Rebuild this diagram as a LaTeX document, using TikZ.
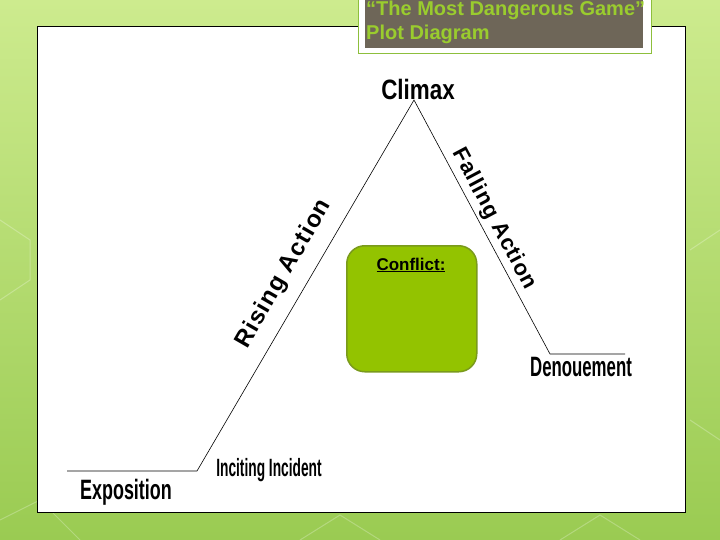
\documentclass[tikz,border=0pt]{standalone}
\usepackage{fontspec}
\setmainfont{Liberation Sans}
\usetikzlibrary{positioning}
\definecolor{bgtop}{HTML}{CDEB8E}
\definecolor{bgbot}{HTML}{9ACB52}
\definecolor{titlegray}{HTML}{6E6658}
\definecolor{titlegreen}{HTML}{9ACC2E}
\definecolor{framegreen}{HTML}{8DBF3C}
\definecolor{conflictfill}{HTML}{93C300}
\definecolor{conflictedge}{HTML}{7A9A1C}
\tikzset{
  plotline/.style={draw=black, line width=0.6pt},
  label/.style={font=\bfseries\fontsize{28}{30}\selectfont, inner sep=0pt, anchor=center},
  slanted/.style={font=\bfseries\fontsize{23}{25}\selectfont\addfontfeature{LetterSpace=4}, inner sep=0pt, anchor=center},
  conflictbox/.style={draw=conflictedge, line width=1.5pt, fill=conflictfill, rounded corners=18pt}
}
\begin{document}
\begin{tikzpicture}[x=1pt,y=-1pt]
\useasboundingbox (0,0) rectangle (720,540);
% background
\shade[top color=bgtop, bottom color=bgbot] (0,0) rectangle (720,540);
\begin{scope}[draw=white, opacity=0.25, line width=1pt]
  \draw (0,300) -- (30,280) -- (30,240) -- (0,220);
  \draw (0,520) -- (40,500) -- (80,540);
  \draw (690,250) -- (720,230);
  \draw (690,420) -- (720,440);
  \draw (300,540) -- (340,515) -- (380,540);
  \draw (560,540) -- (600,515) -- (640,540);
\end{scope}
% white panel
\node[draw=black, line width=0.8pt, fill=white, minimum width=648pt, minimum height=486pt, inner sep=0pt, anchor=north west] (panel) at (37,26) {};
% title box
\node[draw=framegreen, line width=1.5pt, fill=white, minimum width=293pt, minimum height=60pt, inner sep=0pt, anchor=north west] (titleframe) at (357.5,-7) {};
\node[fill=titlegray, minimum width=278pt, minimum height=55pt, inner sep=0pt, anchor=north west] (titlebg) at (365,-7) {};
\node[anchor=north west, inner sep=0pt, align=left, text=titlegreen, font=\bfseries\fontsize{20}{23.5}\selectfont] (title) at (366,1) {“The Most Dangerous Game”\\Plot Diagram};
% plot line
\coordinate (expstart) at (67,471);
\coordinate (incite) at (197,471);
\coordinate (peak) at (414,100);
\coordinate (fallend) at (550,354);
\coordinate (denend) at (625,354);
\draw[plotline] (expstart) -- (incite) -- (peak) -- (fallend) -- (denend);
% labels
\node[label, xscale=0.8] (climax) at (418,89) {Climax};
\node[label, xscale=0.6] (denouement) at (581,367) {Denouement};
\node[label, font=\bfseries\fontsize{25}{27}\selectfont, xscale=0.55] (inciting) at (269,470) {Inciting Incident};
\node[label, xscale=0.64] (exposition) at (126,492) {Exposition};
\node[slanted, font=\bfseries\fontsize{24}{26}\selectfont\addfontfeature{LetterSpace=5}, rotate=60] (rising) at (284,274) {Rising Action};
\node[slanted, font=\bfseries\fontsize{22}{24}\selectfont\addfontfeature{LetterSpace=4}, rotate=-62] (falling) at (494,219) {Falling Action};
% conflict box
\node[conflictbox, minimum width=130pt, minimum height=126pt, inner sep=0pt, anchor=north west] (conflict) at (346,245) {};
\node[font=\bfseries\fontsize{17}{19}\selectfont, inner sep=0pt] (conflicttext) at (411,265) {\underline{Conflict:}};
\end{tikzpicture}
\end{document}
